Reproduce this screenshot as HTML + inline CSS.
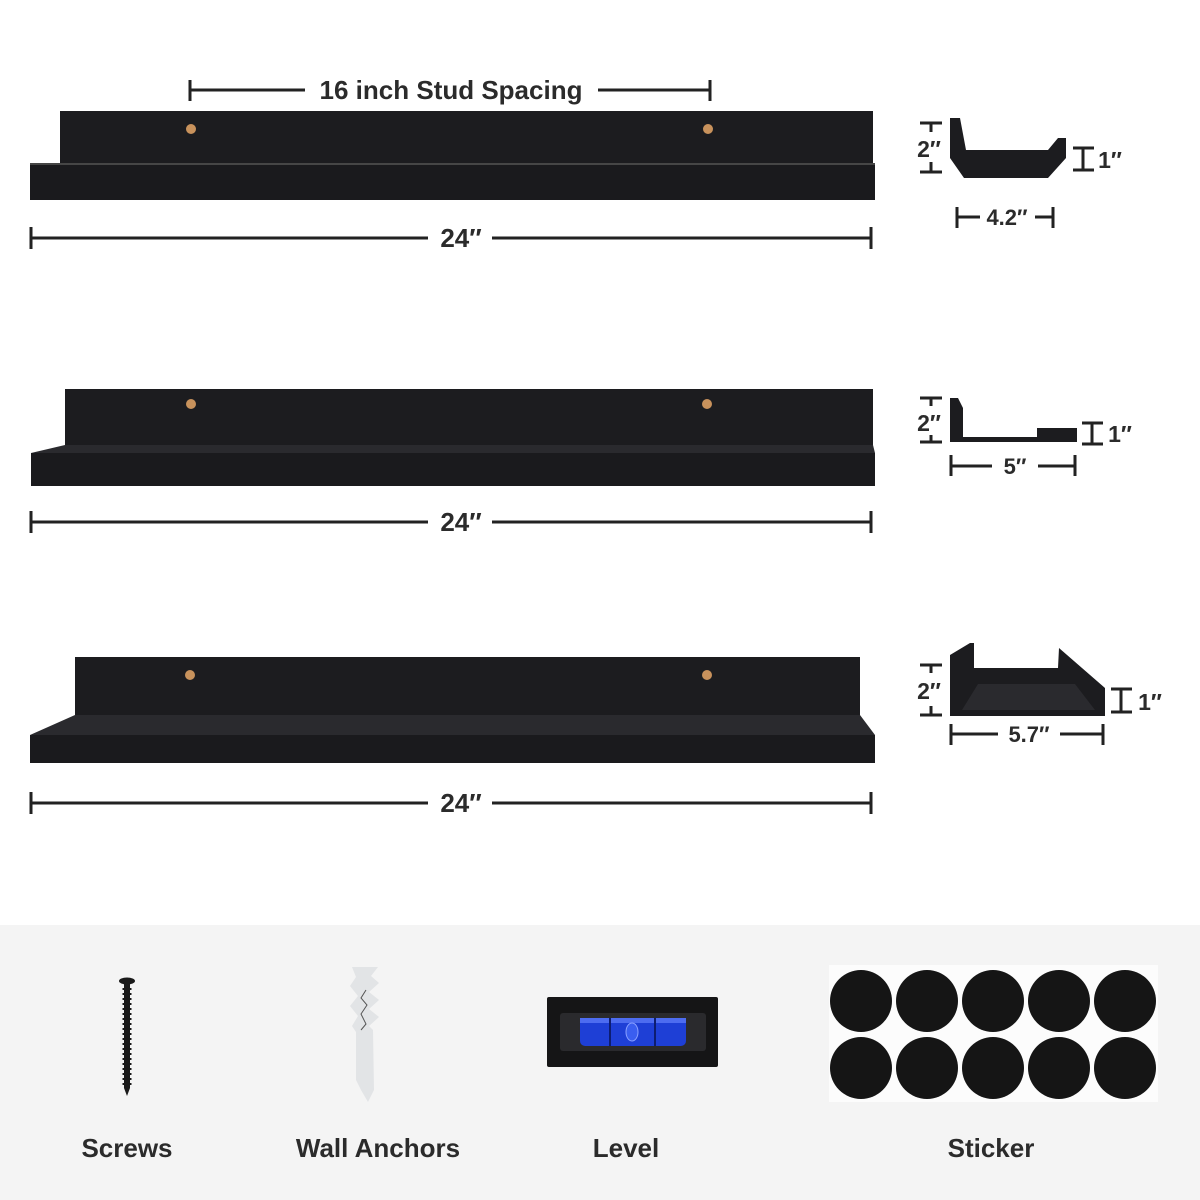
<!DOCTYPE html>
<html><head><meta charset="utf-8"><style>
html,body{margin:0;padding:0;background:#fff;width:1200px;height:1200px;overflow:hidden}
text{font-family:"Liberation Sans",sans-serif;font-weight:bold;fill:#2b2b2b}
</style></head><body>
<svg width="1200" height="1200" viewBox="0 0 1200 1200" xmlns="http://www.w3.org/2000/svg">
<rect x="0" y="0" width="1200" height="1200" fill="#fff"/>
<rect x="0" y="925" width="1200" height="275" fill="#f4f4f4"/>

<g stroke="#222" stroke-width="3">
<line x1="190" y1="90" x2="305" y2="90"/><line x1="190" y1="80" x2="190" y2="101"/>
<line x1="598" y1="90" x2="710" y2="90"/><line x1="710" y1="80" x2="710" y2="101"/>
</g>
<text x="451" y="99" font-size="26" text-anchor="middle">16 inch Stud Spacing</text>

<rect x="60" y="111" width="813" height="52" fill="#1c1c1f"/>
<rect x="30" y="163" width="845" height="37" fill="#1a1a1d"/>
<line x1="30" y1="164" x2="875" y2="164" stroke="#555" stroke-width="1.5"/>
<circle cx="191" cy="129" r="5" fill="#c8925c"/><circle cx="708" cy="129" r="5" fill="#c8925c"/>

<rect x="65" y="389" width="808" height="56" fill="#1c1c1f"/>
<polygon points="65,445 873,445 875,453 31,453" fill="#2a2a2e"/>
<rect x="31" y="453" width="844" height="33" fill="#1a1a1d"/>
<circle cx="191" cy="404" r="5" fill="#c8925c"/><circle cx="707" cy="404" r="5" fill="#c8925c"/>

<rect x="75" y="657" width="785" height="58" fill="#1c1c1f"/>
<polygon points="75,715 860,715 875,735 30,735" fill="#2a2a2e"/>
<rect x="30" y="735" width="845" height="28" fill="#1a1a1d"/>
<circle cx="190" cy="675" r="5" fill="#c8925c"/><circle cx="707" cy="675" r="5" fill="#c8925c"/>

<g stroke="#222" stroke-width="3">
<line x1="31" y1="238" x2="428" y2="238"/><line x1="492" y1="238" x2="871" y2="238"/>
<line x1="31" y1="227" x2="31" y2="249"/><line x1="871" y1="227" x2="871" y2="249"/>
<line x1="31" y1="522" x2="428" y2="522"/><line x1="492" y1="522" x2="871" y2="522"/>
<line x1="31" y1="511" x2="31" y2="533"/><line x1="871" y1="511" x2="871" y2="533"/>
<line x1="31" y1="803" x2="428" y2="803"/><line x1="492" y1="803" x2="871" y2="803"/>
<line x1="31" y1="792" x2="31" y2="814"/><line x1="871" y1="792" x2="871" y2="814"/>
</g>
<text x="461" y="247" font-size="26" text-anchor="middle">24″</text>
<text x="461" y="531" font-size="26" text-anchor="middle">24″</text>
<text x="461" y="812" font-size="26" text-anchor="middle">24″</text>

<polygon points="950,118 960,118 966,150 1048,150 1058,138 1066,138 1066,158 1048,178 964,178 950,158" fill="#1c1c1f"/>
<polygon points="950,398 958,398 963,408 963,437 1037,437 1037,428 1077,428 1077,442 950,442" fill="#1c1c1f"/>
<polygon points="950,655 970,643 974,643 974,668 1058,668 1059,648 1105,688 1105,716 950,716" fill="#1c1c1f"/>
<polygon points="962,710 1095,710 1075,684 978,684" fill="#2a2a2e"/>

<g stroke="#222" stroke-width="3">
<line x1="920" y1="123" x2="942" y2="123"/><line x1="931" y1="123" x2="931" y2="132"/><line x1="931" y1="162" x2="931" y2="172"/><line x1="920" y1="172" x2="942" y2="172"/>
<line x1="920" y1="398" x2="942" y2="398"/><line x1="931" y1="398" x2="931" y2="406"/><line x1="931" y1="435" x2="931" y2="442"/><line x1="920" y1="442" x2="942" y2="442"/>
<line x1="920" y1="665" x2="942" y2="665"/><line x1="931" y1="665" x2="931" y2="673"/><line x1="931" y1="706" x2="931" y2="715"/><line x1="920" y1="715" x2="942" y2="715"/>
<line x1="1073" y1="148" x2="1094" y2="148"/><line x1="1083" y1="148" x2="1083" y2="170"/><line x1="1073" y1="170" x2="1094" y2="170"/>
<line x1="1082" y1="423" x2="1103" y2="423"/><line x1="1092" y1="423" x2="1092" y2="444"/><line x1="1082" y1="444" x2="1103" y2="444"/>
<line x1="1111" y1="689" x2="1132" y2="689"/><line x1="1121" y1="689" x2="1121" y2="712"/><line x1="1111" y1="712" x2="1132" y2="712"/>
<line x1="957" y1="207" x2="957" y2="228"/><line x1="957" y1="217" x2="980" y2="217"/><line x1="1035" y1="217" x2="1053" y2="217"/><line x1="1053" y1="207" x2="1053" y2="228"/>
<line x1="951" y1="455" x2="951" y2="476"/><line x1="951" y1="466" x2="992" y2="466"/><line x1="1038" y1="466" x2="1075" y2="466"/><line x1="1075" y1="455" x2="1075" y2="476"/>
<line x1="951" y1="724" x2="951" y2="745"/><line x1="951" y1="734" x2="998" y2="734"/><line x1="1060" y1="734" x2="1103" y2="734"/><line x1="1103" y1="724" x2="1103" y2="745"/>
</g>
<text x="929" y="157" font-size="23" text-anchor="middle">2″</text>
<text x="929" y="431" font-size="23" text-anchor="middle">2″</text>
<text x="929" y="699" font-size="23" text-anchor="middle">2″</text>
<text x="1110" y="168" font-size="23" text-anchor="middle">1″</text>
<text x="1120" y="442" font-size="23" text-anchor="middle">1″</text>
<text x="1150" y="710" font-size="23" text-anchor="middle">1″</text>
<text x="1007" y="225" font-size="22" text-anchor="middle">4.2″</text>
<text x="1015" y="474" font-size="22" text-anchor="middle">5″</text>
<text x="1029" y="742" font-size="22" text-anchor="middle">5.7″</text>

<ellipse cx="127" cy="981" rx="8" ry="3.5" fill="#1a1a1a"/>
<polygon points="124,983 130,983 130,1088 127,1096 124,1088" fill="#1a1a1a"/>
<line x1="127" y1="988" x2="127" y2="1088" stroke="#1a1a1a" stroke-width="9" stroke-dasharray="2 3"/>

<polygon points="352,967 378,967 371,976 379,983 369,992 379,1000 369,1009 379,1017 369,1026 373,1030 374,1090 368,1102 361,1090 356,1080 356,1032 352,1026 358,1016 350,1006 358,996 350,986 356,977" fill="#e2e4e6"/>
<path d="M366,990 l-5,8 6,7 -6,9 5,10 -5,6" fill="none" stroke="#555" stroke-width="1"/>

<rect x="547" y="997" width="171" height="70" rx="2" fill="#151516"/>
<rect x="560" y="1013" width="146" height="38" rx="3" fill="#2a2a2d"/>
<rect x="580" y="1018" width="106" height="28" rx="5" fill="#1e3fd6"/>
<rect x="580" y="1018" width="106" height="5" fill="#4d6cf0"/>
<line x1="610" y1="1018" x2="610" y2="1046" stroke="#0d1d70" stroke-width="2"/>
<line x1="655" y1="1018" x2="655" y2="1046" stroke="#0d1d70" stroke-width="2"/>
<ellipse cx="632" cy="1032" rx="6" ry="9" fill="#3a5ef0" stroke="#8aa0ff" stroke-width="1"/>

<rect x="829" y="965" width="329" height="137" fill="#fcfcfc"/>
<g fill="#151515">
<circle cx="861" cy="1001" r="31"/><circle cx="927" cy="1001" r="31"/><circle cx="993" cy="1001" r="31"/><circle cx="1059" cy="1001" r="31"/><circle cx="1125" cy="1001" r="31"/>
<circle cx="861" cy="1068" r="31"/><circle cx="927" cy="1068" r="31"/><circle cx="993" cy="1068" r="31"/><circle cx="1059" cy="1068" r="31"/><circle cx="1125" cy="1068" r="31"/>
</g>

<text x="127" y="1157" font-size="26" text-anchor="middle">Screws</text>
<text x="378" y="1157" font-size="26" text-anchor="middle">Wall Anchors</text>
<text x="626" y="1157" font-size="26" text-anchor="middle">Level</text>
<text x="991" y="1157" font-size="26" text-anchor="middle">Sticker</text>
</svg>
</body></html>
